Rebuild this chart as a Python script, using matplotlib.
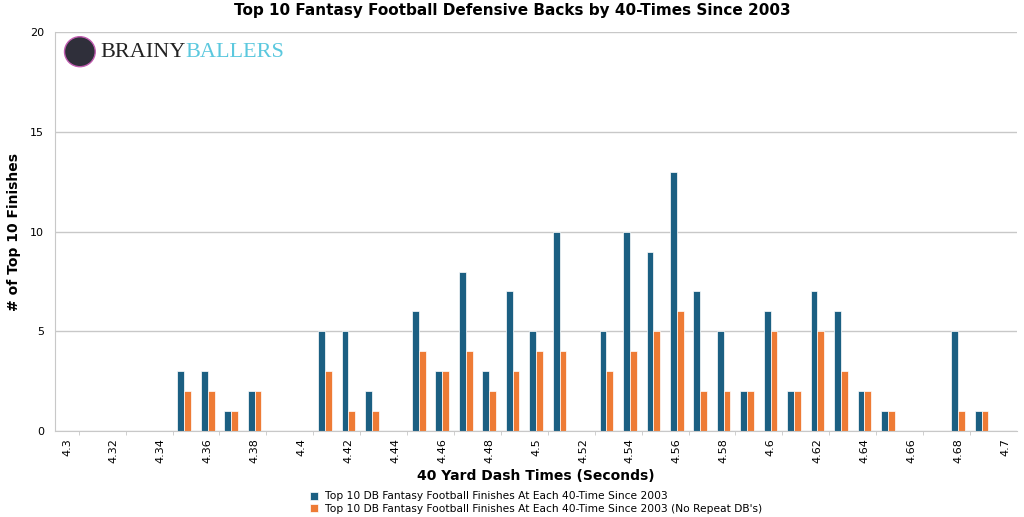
import numpy as np
import matplotlib
matplotlib.use('Agg')
from matplotlib import pyplot as plt
from matplotlib.patches import Ellipse

# 40 yard dash times 4.30 .. 4.70
times = ['4.3', '4.31', '4.32', '4.33', '4.34', '4.35', '4.36', '4.37', '4.38', '4.39',
         '4.4', '4.41', '4.42', '4.43', '4.44', '4.45', '4.46', '4.47', '4.48', '4.49',
         '4.5', '4.51', '4.52', '4.53', '4.54', '4.55', '4.56', '4.57', '4.58', '4.59',
         '4.6', '4.61', '4.62', '4.63', '4.64', '4.65', '4.66', '4.67', '4.68', '4.69',
         '4.7']
finishes = [0, 0, 0, 0, 0, 3, 3, 1, 2, 0,
            0, 5, 5, 2, 0, 6, 3, 8, 3, 7,
            5, 10, 0, 5, 10, 9, 13, 7, 5, 2,
            6, 2, 7, 6, 2, 1, 0, 0, 5, 1,
            0]
no_repeat = [0, 0, 0, 0, 0, 2, 2, 1, 2, 0,
             0, 3, 1, 1, 0, 4, 3, 4, 2, 3,
             4, 4, 0, 3, 4, 5, 6, 2, 2, 2,
             5, 2, 5, 3, 2, 1, 0, 0, 1, 1,
             0]

blue = '#1b5f82'
orange = '#ee7b35'

fig = plt.figure(figsize=(10.24, 5.17), dpi=100)
ax = fig.add_axes([0.054, 0.166, 0.939, 0.772])

x = np.arange(len(times))
w = 0.29
ax.bar(x - w / 2, finishes, w, color=blue, edgecolor='white', linewidth=0.5,
       label='Top 10 DB Fantasy Football Finishes At Each 40-Time Since 2003')
ax.bar(x + w / 2, no_repeat, w, color=orange, edgecolor='white', linewidth=0.5,
       label="Top 10 DB Fantasy Football Finishes At Each 40-Time Since 2003 (No Repeat DB's)")

ax.set_xlim(-0.5, len(times) - 0.5)
ax.set_ylim(0, 20)
ax.set_yticks([0, 5, 10, 15, 20])
ax.yaxis.grid(True, color='#c8c8c8', linewidth=1)
ax.set_axisbelow(True)
ax.tick_params(axis='y', length=0, labelsize=8, pad=8)

ax.set_xticks(x[::2])
ax.set_xticklabels(times[::2], rotation=90, fontsize=8)
ax.set_xticks(np.arange(0.5, len(times) - 1, 2), minor=True)
ax.tick_params(axis='x', which='major', length=0, pad=5)
ax.tick_params(axis='x', which='minor', length=3, color='#c8c8c8')

for s in ['top', 'right']:
    ax.spines[s].set_visible(False)
ax.spines['left'].set_color('#c8c8c8')
ax.spines['bottom'].set_color('#c8c8c8')

ax.set_xlabel('40 Yard Dash Times (Seconds)', fontsize=10, fontweight='bold', labelpad=4)
ax.set_ylabel('# of Top 10 Finishes', fontsize=10, fontweight='bold', labelpad=10)
ax.yaxis.set_label_coords(-0.036, 0.5)
fig.suptitle('Top 10 Fantasy Football Defensive Backs by 40-Times Since 2003',
             fontsize=11, fontweight='bold', y=0.995)

ax.legend(loc='upper left', bbox_to_anchor=(0.26, -0.14), frameon=False, fontsize=7.7,
          handlelength=0.8, handleheight=0.8, handletextpad=0.6, labelspacing=0.25,
          borderaxespad=0)

# logo
fig.patches.append(Ellipse((0.078, 0.9), 0.03, 0.058, transform=fig.transFigure,
                           facecolor='#2f2f3a', edgecolor='#c05cb0', linewidth=1))
fig.text(0.098, 0.898, 'BRAINY', family='Liberation Serif', fontsize=16, color='#222222', va='center')
fig.text(0.181, 0.898, 'BALLERS', family='Liberation Serif', fontsize=16, color='#5bc8de', va='center')

fig.savefig('out.png', dpi=100)
